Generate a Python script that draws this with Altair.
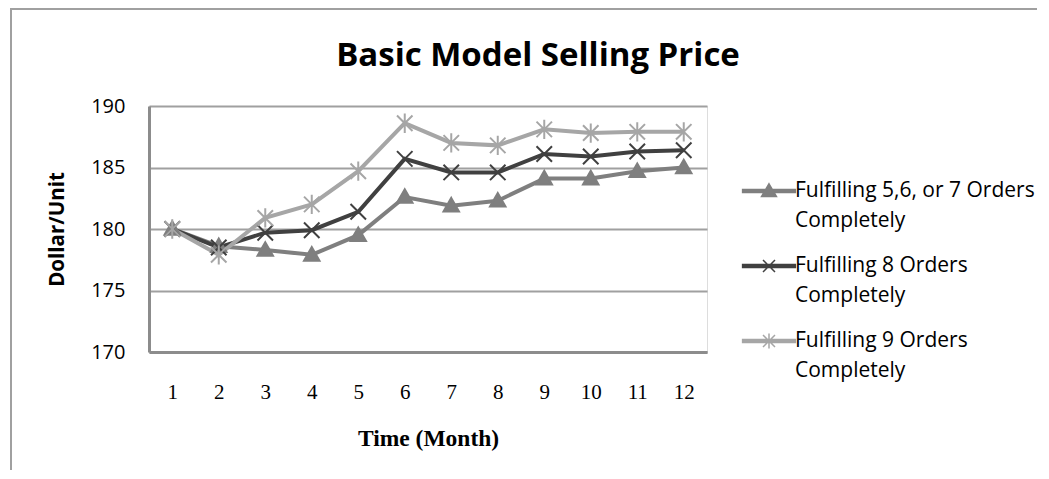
import altair as alt
import pandas as pd

months = list(range(1, 13))
series_names = [
    "Fulfilling 5,6, or 7 Orders Completely",
    "Fulfilling 8 Orders Completely",
    "Fulfilling 9 Orders Completely",
]
s1 = [180.0, 178.6, 178.3, 177.9, 179.5, 182.6, 181.9, 182.3, 184.1, 184.1, 184.7, 185.0]
s2 = [180.0, 178.5, 179.7, 179.9, 181.4, 185.7, 184.6, 184.6, 186.1, 185.9, 186.3, 186.4]
s3 = [180.0, 177.9, 180.9, 182.0, 184.7, 188.6, 187.0, 186.8, 188.1, 187.8, 187.9, 187.9]
y_ticks = [170, 175, 180, 185, 190]
colors = ["#7f7f7f", "#404040", "#a6a6a6"]

rows = []
for name, vals in zip(series_names, [s1, s2, s3]):
    for m, v in zip(months, vals):
        rows.append({"month": m, "price": v, "series": name})
df = pd.DataFrame(rows)

marker_paths = [
    "M0,-1L1,0.75L-1,0.75Z",
    "M-1,-1L1,1M-1,1L1,-1",
    "M-1,-1L1,1M-1,1L1,-1M0,-1.25L0,1.25",
]

line_part = "M-2.2,-0.13H2.2V0.13H-2.2Z"
legend_paths = [
    line_part + "M0,-0.6L0.62,0.45L-0.62,0.45Z",
    line_part + "M-0.5,-0.5L0.5,0.5M-0.5,0.5L0.5,-0.5",
    line_part + "M-0.5,-0.5L0.5,0.5M-0.5,0.5L0.5,-0.5M0,-0.62L0,0.62",
]

x_enc = alt.X(
    "month:O",
    scale=alt.Scale(type="point", padding=0.5),
    axis=alt.Axis(
        title="Time (Month)", labelAngle=0, labelFont="Liberation Serif", labelFontSize=21,
        labelColor="black", labelPadding=29, ticks=False, grid=False,
        domainColor="#8c8c8c", domainWidth=3,
        titleFont="Liberation Serif", titleFontSize=23.5, titleFontWeight="bold", titleColor="black",
        titleY=86, titleBaseline="middle",
    ),
)
y_enc = alt.Y(
    "price:Q",
    scale=alt.Scale(domain=[170, 190], nice=False, zero=False),
    axis=alt.Axis(
        title="Dollar/Unit", values=y_ticks, labelFont="Open Sans", labelFontSize=20,
        labelColor="black", labelPadding=24, ticks=False, grid=True,
        gridColor="#a0a0a0", gridWidth=2, domainColor="#8c8c8c", domainWidth=3,
        titleFont="Open Sans", titleFontSize=20.5, titleFontWeight="bold", titleColor="black",
        titleX=-92, titleY=123, titleBaseline="middle", titleAngle=270,
    ),
)

base = alt.Chart(df)

lines = base.mark_line(strokeWidth=4).encode(
    x=x_enc, y=y_enc,
    color=alt.Color("series:N", scale=alt.Scale(domain=series_names, range=colors), legend=None),
    detail="series:N",
)

points = base.mark_point(filled=True, strokeWidth=2, opacity=1, size=240).encode(
    x=x_enc, y=y_enc,
    shape=alt.Shape("series:N", scale=alt.Scale(domain=series_names, range=marker_paths), legend=None),
    fill=alt.Fill("series:N", scale=alt.Scale(domain=series_names, range=colors), legend=None),
    stroke=alt.Stroke("series:N", scale=alt.Scale(domain=series_names, range=colors), legend=None),
)

leg = dict(
    title=None, orient="none", legendX=607, legendY=72, direction="vertical",
    labelFont="Open Sans", labelFontSize=21, labelColor="black", labelLimit=400,
    labelExpr="[replace(datum.label, ' Completely', ''), 'Completely']",
    labelBaseline="middle", labelOffset=13, symbolSize=576, symbolStrokeWidth=1.5,
    rowPadding=22, padding=0, symbolOpacity=1,
)

legend_layer = base.transform_filter("false").mark_point(
    filled=True, strokeWidth=1.5, opacity=1, size=576
).encode(
    x=x_enc, y=y_enc,
    shape=alt.Shape("series:N", scale=alt.Scale(domain=series_names, range=legend_paths), legend=alt.Legend(**leg)),
    fill=alt.Fill("series:N", scale=alt.Scale(domain=series_names, range=colors), legend=alt.Legend(**leg)),
    stroke=alt.Stroke("series:N", scale=alt.Scale(domain=series_names, range=colors), legend=alt.Legend(**leg)),
)

frame_df = pd.DataFrame({"k": [0]})
border_left = alt.Chart(frame_df).mark_rule(color="#a0a0a0", strokeWidth=2).encode(
    x=alt.value(-138), y=alt.value(-97), y2=alt.value(380)
)
border_top = alt.Chart(frame_df).mark_rule(color="#a0a0a0", strokeWidth=2).encode(
    x=alt.value(-139), x2=alt.value(900), y=alt.value(-97)
)

chart = alt.layer(border_left, border_top, lines, points, legend_layer).resolve_scale(
    shape="independent", fill="independent", stroke="independent", color="independent"
).properties(
    width=558, height=246,
    title=alt.TitleParams(
        "Basic Model Selling Price", font="Open Sans", fontSize=33, fontWeight="bold",
        color="black", anchor="middle", frame="group", dx=110, dy=91, offset=0, baseline="alphabetic",
    ),
    autosize=alt.AutoSizeParams(type="none"),
    padding={"left": 141, "top": 98, "right": 330, "bottom": 118},
).configure_view(stroke="transparent").configure(
    style={"guide-label": {"lineHeight": 30}}
)

chart.save("out.html", embed_options={"renderer": "svg", "actions": False})
